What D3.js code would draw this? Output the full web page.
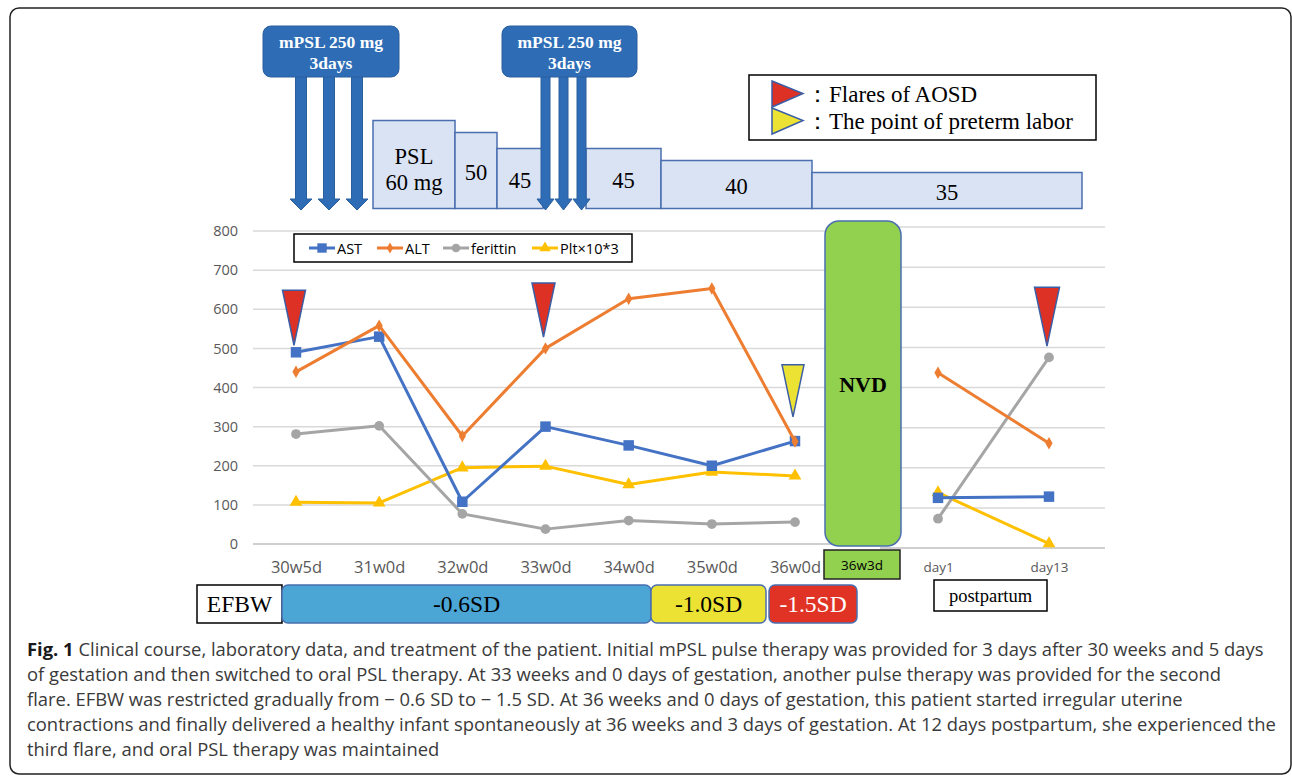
<!DOCTYPE html>
<html>
<head>
<meta charset="utf-8">
<script src="https://d3js.org/d3.v7.min.js"></script>
<style>
  body { margin: 0; background: #fff; }
  svg { display: block; }
</style>
</head>
<body>
<div id="chart"></div>
<script>
// ---- data ----
const gestLabels = ["30w5d", "31w0d", "32w0d", "33w0d", "34w0d", "35w0d", "36w0d"];
const postLabels = ["day1", "day13"];
const yTicks = [0, 100, 200, 300, 400, 500, 600, 700, 800];

const astGest = [490, 530, 108, 300, 252, 200, 263];
const altGest = [440, 558, 276, 500, 627, 653, 262];
const ferritinGest = [281, 302, 77, 38, 60, 51, 56];
const pltGest = [107, 105, 195, 199, 152, 184, 174];

const astPost = [125, 128];
const altPost = [437, 261];
const ferritinPost = [73, 475];
const pltPost = [138, 11];

const seriesNames = ["AST", "ALT", "ferittin", "Plt×10*3"];
const seriesColors = ["#4472c4", "#ed7d31", "#a5a5a5", "#ffc000"];
const seriesSymbols = [d3.symbolSquare, d3.symbolDiamond, d3.symbolCircle, d3.symbolTriangle];
const symbolSizes = [110, 45, 75, 70];

const pslDoses = [60, 50, 45, 45, 40, 35];
const pslLabels = [["PSL", "60 mg"], ["50"], ["45"], ["45"], ["40"], ["35"]];

const efbwLabels = ["-0.6SD", "-1.0SD", "-1.5SD"];
const efbwColors = ["#4ba6d6", "#ebe234", "#e03325"];
const efbwText = ["#000", "#000", "#fff"];

const captionLines = [
  "Clinical course, laboratory data, and treatment of the patient. Initial mPSL pulse therapy was provided for 3 days after 30 weeks and 5 days",
  "of gestation and then switched to oral PSL therapy. At 33 weeks and 0 days of gestation, another pulse therapy was provided for the second",
  "flare. EFBW was restricted gradually from \u2212 0.6 SD to \u2212 1.5 SD. At 36 weeks and 0 days of gestation, this patient started irregular uterine",
  "contractions and finally delivered a healthy infant spontaneously at 36 weeks and 3 days of gestation. At 12 days postpartum, she experienced the",
  "third flare, and oral PSL therapy was maintained"
];

// ---- layout ----
const W = 1292, H = 776;
const serif = "'Liberation Serif', 'Times New Roman', serif";
const sans = "'Open Sans', 'Noto Sans', sans-serif";

const svg = d3.select("#chart").append("svg")
  .attr("width", W).attr("height", H);

// outer frame
svg.append("rect")
  .attr("x", 10).attr("y", 8).attr("width", 1281).attr("height", 766)
  .attr("rx", 9).attr("fill", "#fff").attr("stroke", "#222").attr("stroke-width", 1.5);

const xL = d3.scalePoint(gestLabels, [296, 795]);
const xR = d3.scalePoint(postLabels, [938, 1049]);
const yL = d3.scaleLinear([0, 800], [544, 231]);
const yR = d3.scaleLinear([0, 800], [548, 227]);

// gridlines
const gridL = svg.append("g");
gridL.selectAll("line").data(yTicks).join("line")
  .attr("x1", 253).attr("x2", 870)
  .attr("y1", d => yL(d)).attr("y2", d => yL(d))
  .attr("stroke", d => d === 0 ? "#bfbfbf" : "#d9d9d9").attr("stroke-width", 1.5);
const gridR = svg.append("g");
gridR.selectAll("line").data(yTicks).join("line")
  .attr("x1", 880).attr("x2", 1105)
  .attr("y1", d => yR(d)).attr("y2", d => yR(d))
  .attr("stroke", d => d === 0 ? "#bfbfbf" : "#d9d9d9").attr("stroke-width", 1.5);

// y axis
const yAxis = svg.append("g").attr("transform", "translate(253,0)")
  .call(d3.axisLeft(yL).tickValues(yTicks).tickSize(0).tickPadding(15));
yAxis.select(".domain").remove();
yAxis.selectAll("text").attr("font-family", sans).attr("font-size", 14.5).attr("fill", "#595959");

// x axes
const xAxisL = svg.append("g").attr("transform", "translate(0,544)")
  .call(d3.axisBottom(xL).tickSize(0).tickPadding(17));
xAxisL.select(".domain").remove();
xAxisL.selectAll("text").attr("font-family", sans).attr("font-size", 16.5).attr("fill", "#595959");

const xAxisR = svg.append("g").attr("transform", "translate(0,548)")
  .call(d3.axisBottom(xR).tickSize(0).tickPadding(14));
xAxisR.select(".domain").remove();
xAxisR.selectAll("text").attr("font-family", sans).attr("font-size", 13.5).attr("fill", "#595959");

// series
const gestSeries = [astGest, altGest, ferritinGest, pltGest];
const postSeries = [astPost, altPost, ferritinPost, pltPost];

function drawSeries(values, labels, xs, ys, i) {
  const pts = values.map((v, k) => [xs(labels[k]), ys(v)]);
  svg.append("path")
    .attr("d", d3.line()(pts))
    .attr("fill", "none").attr("stroke", seriesColors[i])
    .attr("stroke-width", 3).attr("stroke-linejoin", "round");
  svg.append("g").selectAll("path").data(pts).join("path")
    .attr("transform", d => `translate(${d[0]},${d[1]})`)
    .attr("d", d3.symbol(seriesSymbols[i], symbolSizes[i]))
    .attr("fill", seriesColors[i]);
}
[3, 2, 0, 1].forEach(i => {
  drawSeries(gestSeries[i], gestLabels, xL, yL, i);
  drawSeries(postSeries[i], postLabels, xR, yR, i);
});

// series legend
const leg = svg.append("g");
leg.append("rect").attr("x", 294).attr("y", 234).attr("width", 338).attr("height", 28)
  .attr("fill", "#fff").attr("stroke", "#000").attr("stroke-width", 1.5);
const legX = [309, 377, 443, 532];
seriesNames.forEach((name, i) => {
  const g = leg.append("g").attr("transform", `translate(${legX[i]},248)`);
  g.append("line").attr("x1", 0).attr("x2", 26).attr("stroke", seriesColors[i]).attr("stroke-width", 3);
  g.append("path").attr("transform", "translate(13,0)")
    .attr("d", d3.symbol(seriesSymbols[i], symbolSizes[i] * 0.8)).attr("fill", seriesColors[i]);
  g.append("text").attr("x", 28).attr("y", 5.5).text(name)
    .attr("font-family", sans).attr("font-size", 14.5).attr("fill", "#000");
});

// flare annotations (tip values read in data units)
const flares = [
  {cat: "30w5d", xs: xL, ys: yL, tip: 508, color: "#dd3125", h: 55, w: 23},
  {cat: "33w0d", xs: xL, ys: yL, tip: 529, color: "#dd3125", h: 54, w: 23},
  {cat: "day13", xs: xR, ys: yR, tip: 503, color: "#dd3125", h: 59, w: 25},
  {cat: "36w0d", xs: xL, ys: yL, tip: 325, color: "#ebe234", h: 52, w: 22}
];
svg.append("g").selectAll("path").data(flares).join("path")
  .attr("d", d => {
    const cx = d.xs(d.cat) - 2, ty = d.ys(d.tip);
    return `M${cx - d.w / 2},${ty - d.h}L${cx + d.w / 2},${ty - d.h}L${cx},${ty}Z`;
  })
  .attr("fill", d => d.color).attr("stroke", "#3b5ea6").attr("stroke-width", 1.5);

// NVD box
svg.append("rect").attr("x", 825).attr("y", 221).attr("width", 76).attr("height", 325)
  .attr("rx", 14).attr("fill", "#92d050").attr("stroke", "#4a6fb0").attr("stroke-width", 1.5);
svg.append("text").attr("x", 863).attr("y", 392).attr("text-anchor", "middle")
  .attr("font-family", serif).attr("font-weight", "bold").attr("font-size", 22).text("NVD");
svg.append("rect").attr("x", 824).attr("y", 550).attr("width", 76).attr("height", 29)
  .attr("fill", "#92d050").attr("stroke", "#222").attr("stroke-width", 1.5);
svg.append("text").attr("x", 862).attr("y", 569.5).attr("text-anchor", "middle")
  .attr("font-family", sans).attr("font-size", 13.5).attr("fill", "#000").text("36w3d");

// PSL dose boxes
const doseH = d3.scaleLinear([35, 40, 45, 50, 60], [36, 48, 60, 76, 88]);
const pslX = [373, 455, 497, 586, 661, 812, 1082];
const pslBottom = 208.5;
const psl = svg.append("g");
pslDoses.forEach((dose, i) => {
  const x0 = pslX[i], x1 = (i === 2 ? 543 : pslX[i + 1]);
  const top = pslBottom - doseH(dose);
  psl.append("rect").attr("x", x0).attr("y", top).attr("width", x1 - x0).attr("height", pslBottom - top)
    .attr("fill", "#dae3f3").attr("stroke", "#4a6fb0").attr("stroke-width", 1.5);
  const lines = pslLabels[i];
  const cy = lines.length === 2 ? 169 : (top + pslBottom) / 2 + 2;
  lines.forEach((t, k) => {
    psl.append("text").attr("x", (x0 + x1) / 2)
      .attr("y", cy + (k - (lines.length - 1) / 2) * 26 + 7.5)
      .attr("text-anchor", "middle").attr("font-family", serif).attr("font-size", 22.5).attr("fill", "#000")
      .text(t);
  });
});

// mPSL pulse boxes and arrows
const pulses = [
  {cat: "30w5d", offsets: [5, 33, 61], box: [263, 399], shaft: 11, head: 22},
  {cat: "33w0d", offsets: [0, 18, 36], box: [502, 637], shaft: 9, head: 17}
];
const pulseColor = "#2e6db6";
pulses.forEach(p => {
  const g = svg.append("g");
  p.offsets.forEach(o => {
    const cx = xL(p.cat) + o;
    const yTop = 70, yHeadStart = 199, yTip = 210;
    g.append("path")
      .attr("d", `M${cx - p.shaft / 2},${yTop}L${cx + p.shaft / 2},${yTop}L${cx + p.shaft / 2},${yHeadStart}` +
        `L${cx + p.head / 2},${yHeadStart}L${cx},${yTip}L${cx - p.head / 2},${yHeadStart}L${cx - p.shaft / 2},${yHeadStart}Z`)
      .attr("fill", pulseColor).attr("stroke", "#2a5f9e").attr("stroke-width", 1);
  });
  g.append("rect").attr("x", p.box[0]).attr("y", 26).attr("width", p.box[1] - p.box[0]).attr("height", 51)
    .attr("rx", 8).attr("fill", pulseColor).attr("stroke", "#2a5f9e").attr("stroke-width", 1);
  const cx = (p.box[0] + p.box[1]) / 2;
  ["mPSL 250 mg", "3days"].forEach((t, k) => {
    g.append("text").attr("x", cx).attr("y", 47.5 + k * 21).attr("text-anchor", "middle")
      .attr("font-family", serif).attr("font-weight", "bold").attr("font-size", 17.5).attr("fill", "#fff").text(t);
  });
});

// flare legend
const fl = svg.append("g");
fl.append("rect").attr("x", 749).attr("y", 75).attr("width", 347).attr("height", 65)
  .attr("fill", "#fff").attr("stroke", "#000").attr("stroke-width", 1.5);
[["#dd3125", "\uFF1AFlares of AOSD", 81], ["#ebe234", "\uFF1AThe point of preterm labor", 108]].forEach(([c, t, y0]) => {
  fl.append("path").attr("d", `M772,${y0}L803,${y0 + 12.5}L772,${y0 + 26}Z`)
    .attr("fill", c).attr("stroke", "#3b5ea6").attr("stroke-width", 1.5);
  fl.append("text").attr("x", 806).attr("y", y0 + 21).attr("font-family", serif)
    .attr("font-size", 23).attr("fill", "#000").text(t);
});

// EFBW bars
const efbw = svg.append("g");
efbw.append("rect").attr("x", 197).attr("y", 585).attr("width", 85).attr("height", 38)
  .attr("fill", "#fff").attr("stroke", "#000").attr("stroke-width", 1.5);
efbw.append("text").attr("x", 239.5).attr("y", 612).attr("text-anchor", "middle")
  .attr("font-family", serif).attr("font-size", 23.5).text("EFBW");
const efbwX = [[282, 651], [651, 766], [769, 857]];
efbwLabels.forEach((lab, i) => {
  const [a, b] = efbwX[i];
  efbw.append("rect").attr("x", a).attr("y", 585).attr("width", b - a).attr("height", 38)
    .attr("rx", 6).attr("fill", efbwColors[i]).attr("stroke", "#4a6fb0").attr("stroke-width", 1.5);
  efbw.append("text").attr("x", (a + b) / 2).attr("y", 612).attr("text-anchor", "middle")
    .attr("font-family", serif).attr("font-size", 23.5).attr("fill", efbwText[i]).text(lab);
});
svg.append("rect").attr("x", 934).attr("y", 580).attr("width", 113).attr("height", 31)
  .attr("fill", "#fff").attr("stroke", "#000").attr("stroke-width", 1.5);
svg.append("text").attr("x", 990.5).attr("y", 602).attr("text-anchor", "middle")
  .attr("font-family", serif).attr("font-size", 18.5).text("postpartum");

// caption
const cap = svg.append("g");
const capFs = 17;
captionLines.forEach((line, i) => {
  const t = cap.append("text").attr("x", 27).attr("y", 656 + i * 25)
    .attr("font-family", sans).attr("font-size", capFs).attr("fill", "#3a3a3a");
  if (i === 0) {
    t.append("tspan").attr("font-weight", "bold").attr("fill", "#1a1a1a").text("Fig. 1");
    t.append("tspan").text(" " + line);
  } else {
    t.text(line);
  }
});
// fit caption width to the reference (line 4 ends near x=1277)
const l4 = cap.selectAll("text").nodes()[3];
const scaleF = 1250 / l4.getComputedTextLength();
cap.selectAll("text").attr("font-size", capFs * scaleF);
</script>
</body>
</html>
